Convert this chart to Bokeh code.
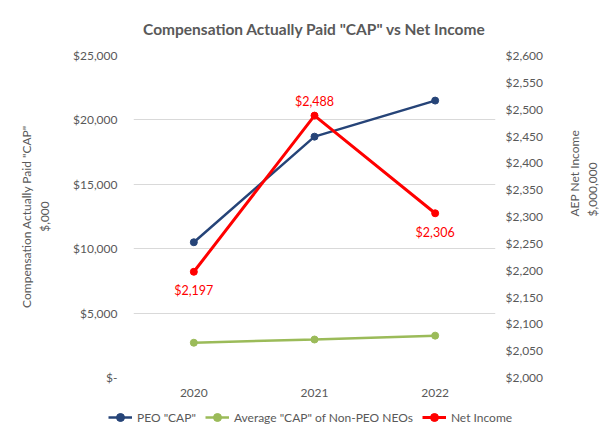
import math
from bokeh.plotting import figure
from bokeh.core.properties import value
from bokeh.models import (Range1d, LinearAxis, NumeralTickFormatter, FixedTicker,
                          Legend, LegendItem, ColumnDataSource, LabelSet)
from bokeh.embed import file_html
from bokeh.resources import INLINE

years = ["2020", "2021", "2022"]
peo_cap = [10500, 18700, 21500]
neo_cap = [2700, 2950, 3250]
net_income = [2197, 2488, 2306]
left_ticks = [0, 5000, 10000, 15000, 20000, 25000]
right_ticks = [2000, 2050, 2100, 2150, 2200, 2250, 2300, 2350, 2400, 2450, 2500, 2550, 2600]
label_offsets = [-19, 14, -19]
series_names = ['PEO "CAP"', 'Average "CAP" of Non-PEO NEOs', "Net Income"]

FONT = "Lato"
GRAY = "#595959"
NAVY = "#264478"
GREEN = "#9bbb59"
RED = "#ff0000"

src = ColumnDataSource(dict(
    year=years, peo=peo_cap, neo=neo_cap, ni=net_income,
    ni_label=["${:,}".format(v) for v in net_income],
    dy=label_offsets,
))

p = figure(x_range=years, y_range=Range1d(left_ticks[0], left_ticks[-1]),
           frame_width=362, frame_height=322, output_backend="svg", toolbar_location=None,
           min_border_left=133, min_border_right=120, min_border_top=55,
           min_border_bottom=28,
           title='Compensation Actually Paid "CAP" vs Net Income')
p.outline_line_color = None
p.background_fill_color = "white"

p.title.align = "center"
p.title.text_font = FONT
p.title.text_font_size = "15.5px"
p.title.text_font_style = "bold"
p.title.text_color = GRAY
p.title.standoff = 35

p.extra_y_ranges = {"ni": Range1d(right_ticks[0], right_ticks[-1])}

# left axis
ya = p.yaxis[0]
ya.ticker = FixedTicker(ticks=left_ticks)
ya.formatter = NumeralTickFormatter(format="$0,0")
ya.major_label_overrides = {0: "$-"}
ya.axis_label = 'Compensation Actually Paid "CAP"\n$,000'
ya.axis_label_standoff = 18
ya.major_label_standoff = 16

# right axis
ra = LinearAxis(y_range_name="ni", ticker=FixedTicker(ticks=right_ticks),
                formatter=NumeralTickFormatter(format="$0,0"),
                axis_label="AEP Net Income\n$,000,000")
ra.axis_label_standoff = 37
ra.major_label_standoff = 10
if "axis_label_orientation" in ra.properties():
    ra.axis_label_orientation = math.pi / 2
p.add_layout(ra, "right")

for ax in [ya, ra, p.xaxis[0]]:
    ax.major_tick_line_color = None
    ax.minor_tick_line_color = None
    ax.major_tick_out = 0
    ax.major_tick_in = 0
    ax.minor_tick_out = 0
    ax.minor_tick_in = 0
    ax.axis_line_color = None
    ax.major_label_text_font = FONT
    ax.major_label_text_font_size = "12px"
    ax.major_label_text_color = GRAY
    ax.axis_label_text_font = FONT
    ax.axis_label_text_font_size = "12px"
    ax.axis_label_text_color = GRAY
    ax.axis_label_text_font_style = "normal"

p.xaxis[0].major_label_standoff = 11
p.xgrid.grid_line_color = None
p.ygrid.ticker = FixedTicker(ticks=left_ticks)
p.ygrid.grid_line_color = "#d9d9d9"
p.ygrid.grid_line_width = 1

colors = [NAVY, GREEN, RED]
fields = ["peo", "neo", "ni"]
widths = [2.5, 2.5, 3]
for f, c, w in zip(fields, colors, widths):
    rng = "ni" if f == "ni" else "default"
    p.line("year", f, source=src, color=c, line_width=w, y_range_name=rng)
    p.scatter("year", f, source=src, color=c, size=7, y_range_name=rng)

labels = LabelSet(x="year", y="ni", text="ni_label", source=src, y_range_name="ni",
                  y_offset="dy", text_align="center", text_baseline="middle",
                  text_color=RED, text_font=value(FONT), text_font_size="12.5px")
p.add_layout(labels)

# legend strip below the chart (separate root so that its frame spans the full width)
p2 = figure(width=615, height=35, output_backend="svg", toolbar_location=None,
            x_range=years, y_range=Range1d(-2, -1),
            x_axis_location=None, y_axis_location=None,
            min_border_left=0, min_border_right=0, min_border_top=0, min_border_bottom=0)
p2.outline_line_color = None
p2.xgrid.visible = False
p2.ygrid.visible = False
items = []
for name, f, c, w in zip(series_names, fields, colors, widths):
    lr = p2.line("year", f, source=src, color=c, line_width=w)
    sr = p2.scatter("year", f, source=src, color=c, size=7)
    items.append(LegendItem(label=name, renderers=[lr, sr]))

legend = Legend(items=items, orientation="horizontal", location=(108, 13))
legend.border_line_color = None
legend.background_fill_alpha = 0
legend.label_text_font = FONT
legend.label_text_font_size = "12px"
legend.label_text_color = GRAY
legend.glyph_width = 24
legend.spacing = 9
legend.padding = 2
legend.margin = 0
legend.label_standoff = 5
p2.add_layout(legend, "center")

open("out.html", "w").write(file_html([p, p2], INLINE))
